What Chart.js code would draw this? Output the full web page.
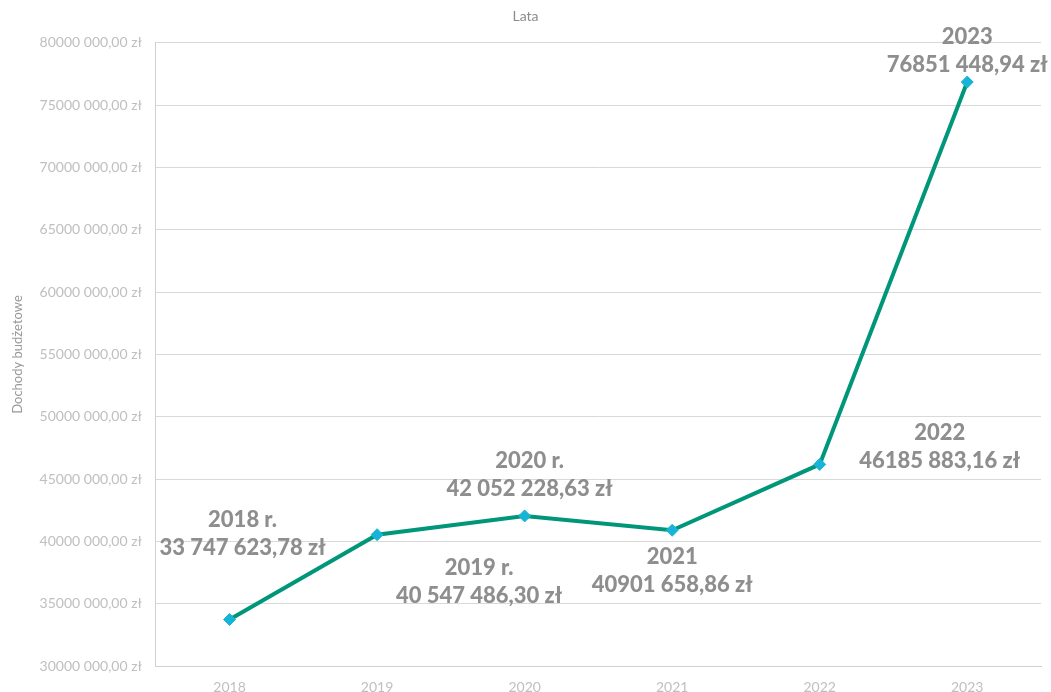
<!DOCTYPE html>
<html>
<head>
<meta charset="utf-8">
<script src="https://cdn.jsdelivr.net/npm/chart.js@4"></script>
<style>
  html, body { margin: 0; padding: 0; background: #fff; }
  #wrap { width: 1051px; height: 692px; }
</style>
</head>
<body>
<div id="wrap"><canvas id="chart"></canvas></div>
<script>
// Data
const years = ['2018', '2019', '2020', '2021', '2022', '2023'];
const revenue = [33747623.78, 40547486.30, 42052228.63, 40901658.86, 46185883.16, 76851448.94];
const labelTitles = ['2018 r.', '2019 r.', '2020 r.', '2021', '2022', '2023'];
const labelValues = ['33 747 623,78 zł', '40 547 486,30 zł', '42 052 228,63 zł', '40901 658,86 zł', '46185 883,16 zł', '76851 448,94 zł'];

// where each data label sits relative to its point (px)
const labelOffsets = [[13, -100], [102, 33], [5, -55], [0, 27], [120, -31], [0, -45]];

const formatTick = v => {
    const hi = Math.floor(v / 1000);
    const lo = String(v % 1000).padStart(3, '0');
    return `${hi} ${lo},00 zł`;
};

const dataLabels = {
    id: 'dataLabels',
    afterDatasetsDraw(chart) {
        const ctx = chart.ctx;
        const meta = chart.getDatasetMeta(0);
        ctx.save();
        ctx.fillStyle = '#8e8e8e';
        ctx.font = '900 22px Lato';
        ctx.textAlign = 'center';
        ctx.textBaseline = 'middle';
        meta.data.forEach((pt, i) => {
            const x = pt.x + labelOffsets[i][0];
            const y = pt.y + labelOffsets[i][1];
            ctx.fillText(labelTitles[i], x, y);
            ctx.fillText(labelValues[i], x, y + 28);
        });
        ctx.restore();
    }
};

const ctx = document.getElementById('chart').getContext('2d');
new Chart(ctx, {
    type: 'line',
    data: {
        labels: years,
        datasets: [{
            data: revenue,
            borderColor: '#009679',
            borderWidth: 4,
            tension: 0,
            pointStyle: 'rectRot',
            pointRadius: 6,
            pointHoverRadius: 6,
            pointBackgroundColor: '#17b4d8',
            pointBorderColor: '#17b4d8',
            pointBorderWidth: 1
        }]
    },
    options: {
        responsive: true,
        maintainAspectRatio: false,
        animation: false,
        layout: { padding: { top: 0, right: 10, bottom: -17, left: 10 } },
        plugins: {
            legend: { display: false },
            tooltip: { enabled: false },
            title: {
                display: true,
                text: 'Lata',
                color: '#8c8c8c',
                font: { family: 'Lato', size: 14, weight: 'normal' },
                padding: { top: 8, bottom: 18 }
            }
        },
        scales: {
            x: {
                offset: true,
                grid: { display: false, drawTicks: false },
                border: { color: '#d0d0d0', width: 1 },
                ticks: {
                    color: '#bfbfbf',
                    font: { family: 'Lato', size: 14 },
                    padding: 13
                }
            },
            y: {
                min: 30000000,
                max: 80000000,
                grid: { color: '#d9d9d9', drawTicks: false },
                border: { color: '#d0d0d0', width: 1 },
                ticks: {
                    stepSize: 5000000,
                    color: '#bfbfbf',
                    font: { family: 'Lato', size: 14 },
                    padding: 14,
                    callback: v => formatTick(v)
                },
                title: {
                    display: true,
                    text: 'Dochody budżetowe',
                    color: '#999999',
                    font: { family: 'Lato', size: 13 },
                    padding: { top: 0, bottom: 0 }
                }
            }
        }
    },
    plugins: [dataLabels]
});
</script>
</body>
</html>
